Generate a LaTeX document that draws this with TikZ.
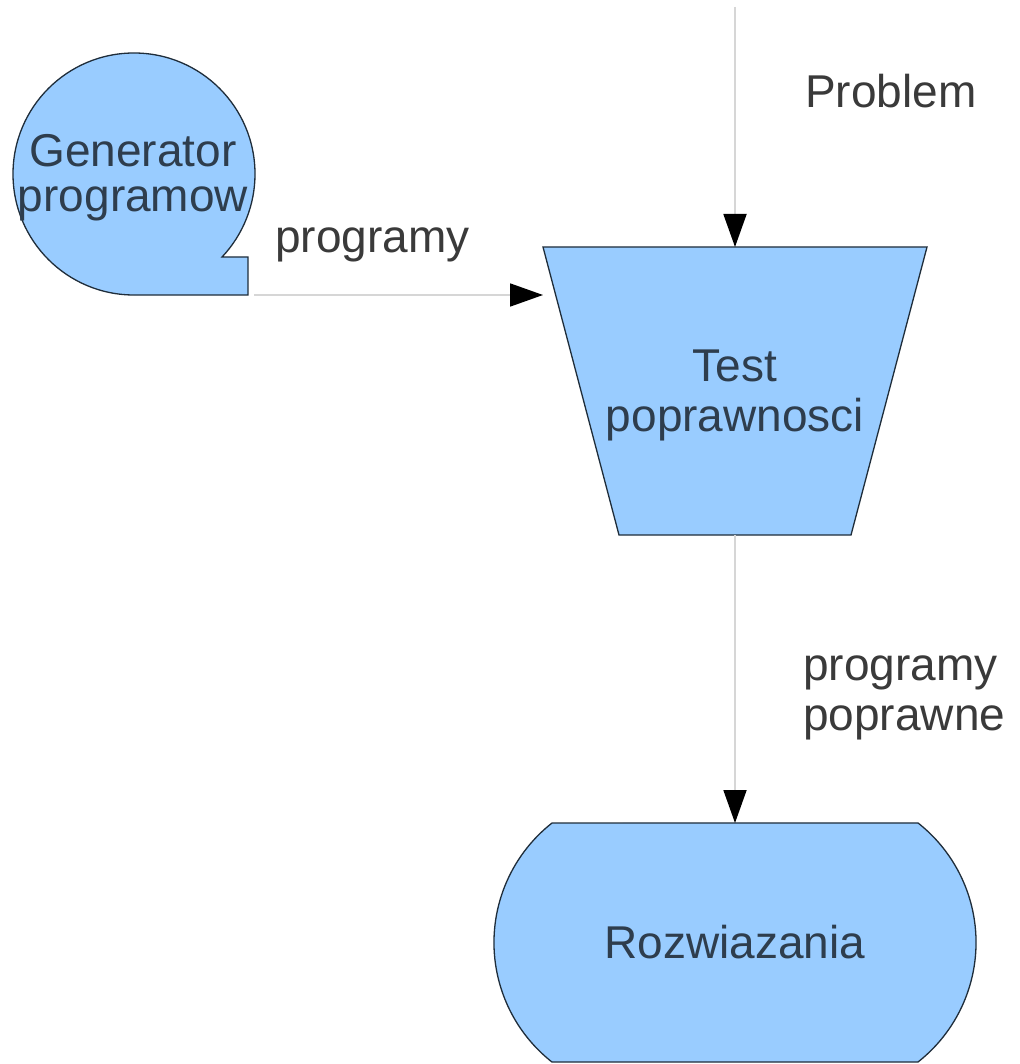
\documentclass[tikz,border=0pt]{standalone}
\usepackage{fontspec}
\setmainfont{Liberation Sans}
\usetikzlibrary{arrows.meta}
\definecolor{shapefill}{HTML}{99CCFF}
\definecolor{shapeline}{HTML}{1F2D3A}
\definecolor{connline}{HTML}{D6D6D6}
\definecolor{labeltext}{HTML}{3A3A3A}
\definecolor{innertext}{HTML}{2E3D4D}
\begin{document}
\begin{tikzpicture}[x=1pt,y=-1pt,
  shapestyle/.style={fill=shapefill,draw=shapeline,line width=1.3pt,line join=miter},
  box/.style={inner sep=0pt,outer sep=0pt,text=innertext,align=center,font=\fontsize{46}{50}\selectfont},
  lbl/.style={inner sep=0pt,text=labeltext,align=left,font=\fontsize{46}{50}\selectfont},
  connector/.style={draw=connline,line width=1.8pt,-{Triangle[width=23pt,length=33pt,color=black]}}
]
\useasboundingbox[fill=white] (0,0) rectangle (1019,1064);

% shapes
\draw[shapestyle] (248,295) -- (134,295) arc[start angle=90,end angle=403.3,radius=121] -- (248,257) -- cycle;
\draw[shapestyle] (543,247) -- (927,247) -- (851,535) -- (619,535) -- cycle;
\draw[shapestyle] (552,823) arc[start angle=231.8,end angle=128.2,radius=152.1] -- (918,1062)
  arc[start angle=51.8,end angle=-51.8,radius=152.1] -- cycle;

% nodes
\node[box,font=\fontsize{46}{45}\selectfont] (gen) at (133,178) {Generator\\programow};
\node[box,minimum width=384pt,minimum height=288pt,text depth=0pt] (trap) at (735,391) {Test\\poprawnosci};
\node[box,minimum width=481pt,minimum height=239pt] (sol) at (735,942.5) {\raisebox{-3pt}{Rozwiazania}};

% connector ends
\coordinate (ptop) at (735,7);
\coordinate (gout) at (254,295);

\draw[connector] (ptop) -- (trap.north);
\draw[connector] (gout) -- (gout -| trap.west);
\draw[connector] (trap.south) -- (sol.north);

% labels
\node[lbl,anchor=base west] (lprob) at (805,108) {Problem};
\node[lbl,anchor=base west] (lprog) at (275,253) {programy};
\node[lbl,anchor=base west] (lpop) at (803,730) {programy\\poprawne};
\end{tikzpicture}
\end{document}
